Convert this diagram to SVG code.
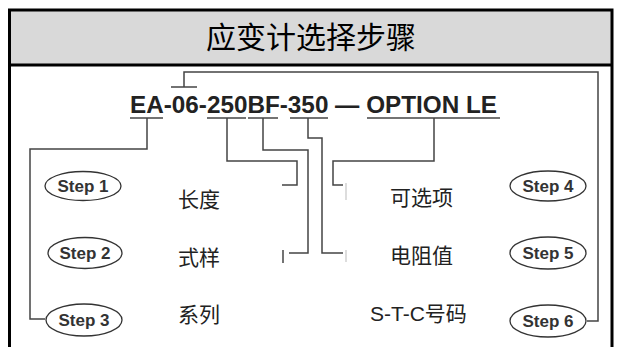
<svg xmlns="http://www.w3.org/2000/svg" width="622" height="347" viewBox="0 0 622 347">
<style>
.frame{fill:none;stroke:#000;stroke-width:3}
.c{fill:none;stroke:#444;stroke-width:1.5}
.ul{stroke:#444;stroke-width:1.5}
.step ellipse{fill:#fff;stroke:#333;stroke-width:1.3}
.step text{font-family:"Liberation Sans",Arial,sans-serif;font-weight:bold;font-size:17px;fill:#333;text-anchor:middle}
.lbl{font-family:"Noto Sans CJK SC","Liberation Sans",sans-serif;font-size:21px;fill:#222}
</style>
<rect x="0" y="0" width="622" height="347" fill="#fff"/>
<g id="header">
<rect x="9.5" y="10" width="602.5" height="55" fill="#d9d9d9"/>
<text x="311" y="48" font-family="'Noto Sans CJK SC',sans-serif" font-size="30" text-anchor="middle" fill="#000">应变计选择步骤</text>
</g>
<path class="frame" d="M9.5 347 V10 H612 V347"/>
<line x1="9.5" y1="65" x2="612" y2="65" stroke="#000" stroke-width="3"/>
<g id="code">
<text x="130" y="113" font-family="'Liberation Sans',Arial,sans-serif" font-weight="bold" font-size="24" fill="#222" textLength="367" lengthAdjust="spacingAndGlyphs">EA-06-250BF-350 — OPTION LE</text>
<line class="ul" x1="130" y1="118" x2="163" y2="118"/>
<line class="ul" x1="207" y1="118" x2="246" y2="118"/>
<line class="ul" x1="248" y1="118" x2="278" y2="118"/>
<line class="ul" x1="290" y1="118" x2="328" y2="118"/>
<line class="ul" x1="367" y1="118" x2="500" y2="118"/>
<line class="ul" x1="171" y1="87" x2="197" y2="87"/>
</g>
<g id="connectors">
<path class="c" d="M184 87 V72 H598 V321 H587"/>
<path class="c" d="M147 118 V149 H30 V319 H45"/>
<path class="c" d="M227 118 V161 H297 V185 H282"/>
<path class="c" d="M263 118 V150 H308 V253 H289"/>
<path class="c" d="M308 118 V138 H322 V253 H343"/>
<path class="c" d="M434 118 V161 H333 V185 H343"/>
<line class="ul" x1="283" y1="250" x2="283" y2="263"/>
<line x1="346" y1="183" x2="346" y2="200" stroke="#bbb" stroke-width="1"/>
<line x1="346" y1="250" x2="346" y2="262" stroke="#bbb" stroke-width="1"/>
</g>
<g id="step1" class="step"><ellipse cx="83" cy="186" rx="38" ry="14.5"/><text x="83" y="192">Step 1</text></g>
<g id="step2" class="step"><ellipse cx="85" cy="253" rx="37" ry="15.5"/><text x="85" y="259">Step 2</text></g>
<g id="step3" class="step"><ellipse cx="84" cy="320" rx="38" ry="16"/><text x="84" y="326">Step 3</text></g>
<g id="step4" class="step"><ellipse cx="548" cy="186" rx="38" ry="15"/><text x="548" y="192">Step 4</text></g>
<g id="step5" class="step"><ellipse cx="548" cy="253" rx="38" ry="16"/><text x="548" y="259">Step 5</text></g>
<g id="step6" class="step"><ellipse cx="548" cy="321" rx="38" ry="16"/><text x="548" y="327">Step 6</text></g>
<g id="label1"><text class="lbl" x="178" y="207">长度</text></g>
<g id="label2"><text class="lbl" x="178" y="265">式样</text></g>
<g id="label3"><text class="lbl" x="178" y="322">系列</text></g>
<g id="label4"><text class="lbl" x="390" y="205">可选项</text></g>
<g id="label5"><text class="lbl" x="390" y="263">电阻值</text></g>
<g id="label6"><text class="lbl" x="370" y="321"><tspan font-family="'Liberation Sans',Arial,sans-serif">S-T-C</tspan>号码</text></g>
</svg>
